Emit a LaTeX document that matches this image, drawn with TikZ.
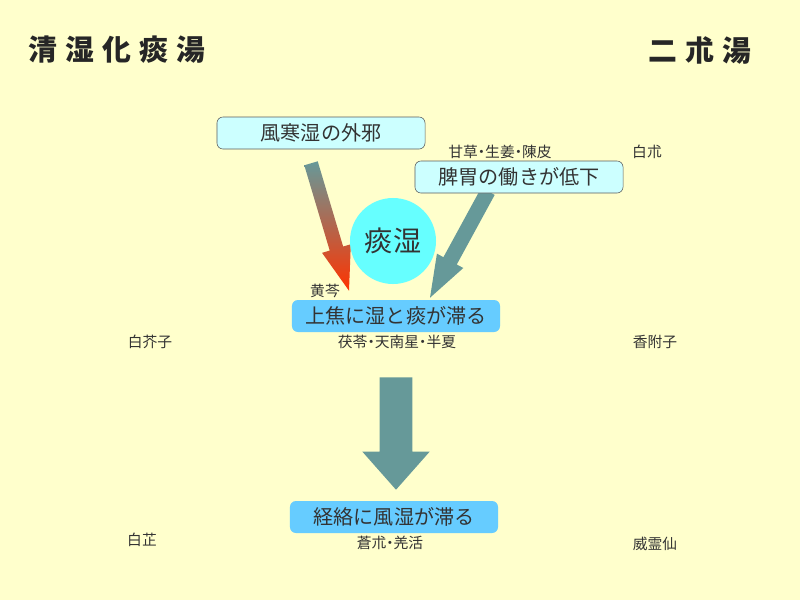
\documentclass[tikz,border=0pt]{standalone}
\usepackage{fontspec}
\setmainfont{Noto Sans CJK JP}
\newfontfamily\titlefont[LetterSpace=28]{Noto Sans CJK JP}
\newfontfamily\herbfont[RawFeature=+palt]{Noto Sans CJK JP}
\usetikzlibrary{calc,backgrounds}
\definecolor{paper}{HTML}{FFFFCC}
\definecolor{palecyan}{HTML}{CCFFFF}
\definecolor{skyblue}{HTML}{66CCFF}
\definecolor{aqua}{HTML}{66FFFF}
\definecolor{teal}{HTML}{669999}
\definecolor{flame}{HTML}{FF3300}
\definecolor{ink}{HTML}{333333}
\tikzset{
  causebox/.style={draw=ink!80, fill=palecyan, rounded corners=0.15cm, minimum width=5.2cm,
    minimum height=0.8cm, inner sep=0pt, text=ink, font=\fontsize{14.3}{16}\selectfont},
  statebox/.style={fill=skyblue, rounded corners=0.15cm, minimum width=5.2cm,
    minimum height=0.8cm, inner sep=0pt, text=ink, font=\fontsize{14.3}{16}\selectfont},
  herb/.style={inner sep=0pt, text=ink, font=\herbfont\fontsize{10.5}{12}\selectfont},
  heading/.style={inner sep=0pt, text=black!85, font=\titlefont\bfseries\fontsize{20.5}{22}\selectfont}
}
% fat arrow: options, start, tip, half shaft, half head, head length
\newcommand{\fatarrow}[6]{%
  \coordinate (fb) at ($(#3)!#6!(#2)$);
  \path[#1] ($(#2)!#4!90:(#3)$) -- ($(fb)!#4!90:(#3)$) -- ($(fb)!#5!90:(#3)$) -- (#3)
    -- ($(fb)!#5!-90:(#3)$) -- ($(fb)!#4!-90:(#3)$) -- ($(#2)!#4!-90:(#3)$) -- cycle;}
\begin{document}
\begin{tikzpicture}[x=0.025cm, y=-0.025cm]
    \useasboundingbox (0,0) rectangle (800,600);

    \node[heading] (hoshitsu) at (117,50) {清湿化痰湯};
    \node[heading] (nijutsu) at (700,50) {二朮湯};

    \node[causebox] (gaija) at (321,133) {風寒湿の外邪};
    \node[causebox] (hii) at (519,177) {脾胃の働きが低下};
    \node[circle, fill=aqua, minimum size=2.15cm, inner sep=0pt, text=ink,
        font=\fontsize{20}{22}\selectfont] (tanshitsu) at (393,241) {痰湿};
    \node[statebox] (joushou) at (396,316) {上焦に湿と痰が滞る};
    \node[statebox] (keiraku) at (394,517) {経絡に風湿が滞る};

    \node[herb] (kanzou) at (500,152) {甘草・生姜・陳皮};
    \node[herb] (byakujutsu) at (647,152) {白朮};
    \node[herb] (ougon) at (325,291) {黄芩};
    \node[herb] (byakugaishi) at (150,342) {白芥子};
    \node[herb] (bukuryou) at (397,342) {茯苓・天南星・半夏};
    \node[herb] (koubushi) at (655,342) {香附子};
    \node[herb] (byakushi) at (142,540) {白芷};
    \node[herb] (soujutsu) at (390,543) {蒼朮・羌活};
    \node[herb] (ireisen) at (655,544) {威霊仙};

    \coordinate (a1) at ($(gaija.south)+(-10,14)$);
    \coordinate (b1) at ($(joushou.north)+(-47,-9)$);
    \coordinate (a2) at ($(hii.south)+(-31,-2)$);
    \coordinate (b2) at ($(joushou.north)+(34,-2)$);
    \coordinate (a3) at ($(joushou.south)+(0,45)$);
    \coordinate (b3) at ($(keiraku.north)+(2,-11)$);

    \begin{scope}[on background layer]
        \fill[paper] (0,0) rectangle (800,600);
        \fatarrow{shade, top color=teal, bottom color=flame}{a1}{b1}{0.175cm}{0.375cm}{1.1cm}
        \fatarrow{fill=teal}{a2}{b2}{0.19cm}{0.375cm}{1.05cm}
        \fatarrow{fill=teal}{a3}{b3}{0.41cm}{0.84cm}{0.95cm}
    \end{scope}
\end{tikzpicture}
\end{document}
